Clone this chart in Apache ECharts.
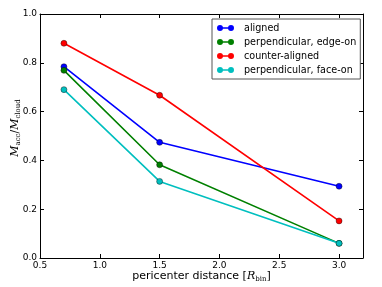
<!DOCTYPE html>
<html><head><meta charset="utf-8">
<script src="https://cdn.jsdelivr.net/npm/echarts@6/dist/echarts.min.js"></script>
<style>html,body{margin:0;padding:0;background:#fff}#c{width:382px;height:287px}</style>
</head><body><div id="c"></div>
<script>
const xValues = [0.7, 1.5, 3.0];
const xTicks = [0.5, 1.0, 1.5, 2.0, 2.5, 3.0];
const yTicks = [0, 0.2, 0.4, 0.6, 0.8, 1.0];
const aligned = [0.784, 0.474, 0.294];
const perpEdge = [0.769, 0.382, 0.060];
const counterAligned = [0.880, 0.667, 0.152];
const perpFace = [0.690, 0.314, 0.060];
const seriesNames = ['aligned', 'perpendicular, edge-on', 'counter-aligned', 'perpendicular, face-on'];
const seriesData = [aligned, perpEdge, counterAligned, perpFace];
const colors = ['#0000ff', '#008000', '#ff0000', '#00bfbf'];

const FONT = 'DejaVu Sans';
const chart = echarts.init(document.getElementById('c'), null, {renderer: 'canvas'});
const frameLine = {show: true, onZero: false, lineStyle: {color: '#000', width: 1}};
const tickIn = {show: true, inside: true, length: 4, lineStyle: {color: '#000', width: 1}};
const legendIcon = 'path://M0,3 A3,3 0 1,0 6,3 A3,3 0 1,0 0,3 Z M3,2.2 L3,3.8 L14,3.8 L14,2.2 Z M11,3 A3,3 0 1,0 17,3 A3,3 0 1,0 11,3 Z';

chart.setOption({
  animation: false,
  textStyle: {fontFamily: FONT},
  grid: {left: 40, right: 19, top: 14, bottom: 29, outerBoundsMode: 'none', containLabel: false},
  legend: {
    orient: 'vertical', left: 212, top: 19,
    padding: [3, 4, 3, 5], itemGap: 2, itemWidth: 17, itemHeight: 6,
    icon: legendIcon,
    itemStyle: {borderWidth: 0},
    borderColor: '#555', borderWidth: 1, backgroundColor: '#fff',
    textStyle: {fontFamily: FONT, fontSize: 9.6, color: '#000', padding: [0, 0, 0, 5], lineHeight: 12},
    data: seriesNames
  },
  xAxis: [{
    type: 'value', min: 0.5, max: 3.2, interval: 0.5,
    axisLine: frameLine,
    axisTick: Object.assign({customValues: xTicks}, tickIn),
    axisLabel: {customValues: xTicks, formatter: v => v.toFixed(1), fontSize: 9, color: '#000', margin: 3, fontFamily: FONT},
    splitLine: {show: false},
    name: '{t|pericenter distance [}{i|R}{s|bin}{t|]}',
    nameLocation: 'middle', nameGap: 12, nameMoveOverlap: false,
    nameTextStyle: {rich: {
      t: {fontSize: 11, fontFamily: FONT, color: '#000'},
      i: {fontSize: 11, fontFamily: 'DejaVu Serif', fontStyle: 'italic', color: '#000'},
      s: {fontSize: 7, fontFamily: 'DejaVu Serif', color: '#000', padding: [6, 0, 0, 0]}
    }}
  }, {
    type: 'value', position: 'top', min: 0.5, max: 3.2, interval: 0.5,
    axisLine: frameLine,
    axisTick: Object.assign({customValues: xTicks}, tickIn),
    axisLabel: {show: false}, splitLine: {show: false}
  }],
  yAxis: [{
    type: 'value', min: 0, max: 1, interval: 0.2,
    axisLine: frameLine,
    axisTick: Object.assign({customValues: yTicks}, tickIn),
    axisLabel: {customValues: yTicks, formatter: v => v.toFixed(1), fontSize: 9, color: '#000', margin: 3, fontFamily: FONT},
    splitLine: {show: false},
    name: '{i|M}{s|acc}{t|/}{i|M}{s|cloud}',
    nameLocation: 'middle', nameGap: 18, nameRotate: 90, nameMoveOverlap: false,
    nameTextStyle: {padding: [0, 0, 0, 16], rich: {
      t: {fontSize: 11, fontFamily: 'DejaVu Serif', color: '#000'},
      i: {fontSize: 11, fontFamily: 'DejaVu Serif', fontStyle: 'italic', color: '#000'},
      s: {fontSize: 7, fontFamily: 'DejaVu Serif', color: '#000', padding: [6, 0, 0, 0]}
    }}
  }, {
    type: 'value', position: 'right', min: 0, max: 1, interval: 0.2,
    axisLine: frameLine,
    axisTick: Object.assign({customValues: yTicks}, tickIn),
    axisLabel: {show: false}, splitLine: {show: false}
  }],
  series: seriesNames.map((n, i) => ({
    name: n, type: 'line', xAxisIndex: 0, yAxisIndex: 0,
    data: xValues.map((x, j) => [x, seriesData[i][j]]),
    symbol: 'circle', symbolSize: 6, showSymbol: true,
    lineStyle: {color: colors[i], width: 1.6},
    itemStyle: {color: colors[i], borderColor: '#000', borderWidth: 0.4},
    z: 2 + i
  }))
});
</script></body></html>
